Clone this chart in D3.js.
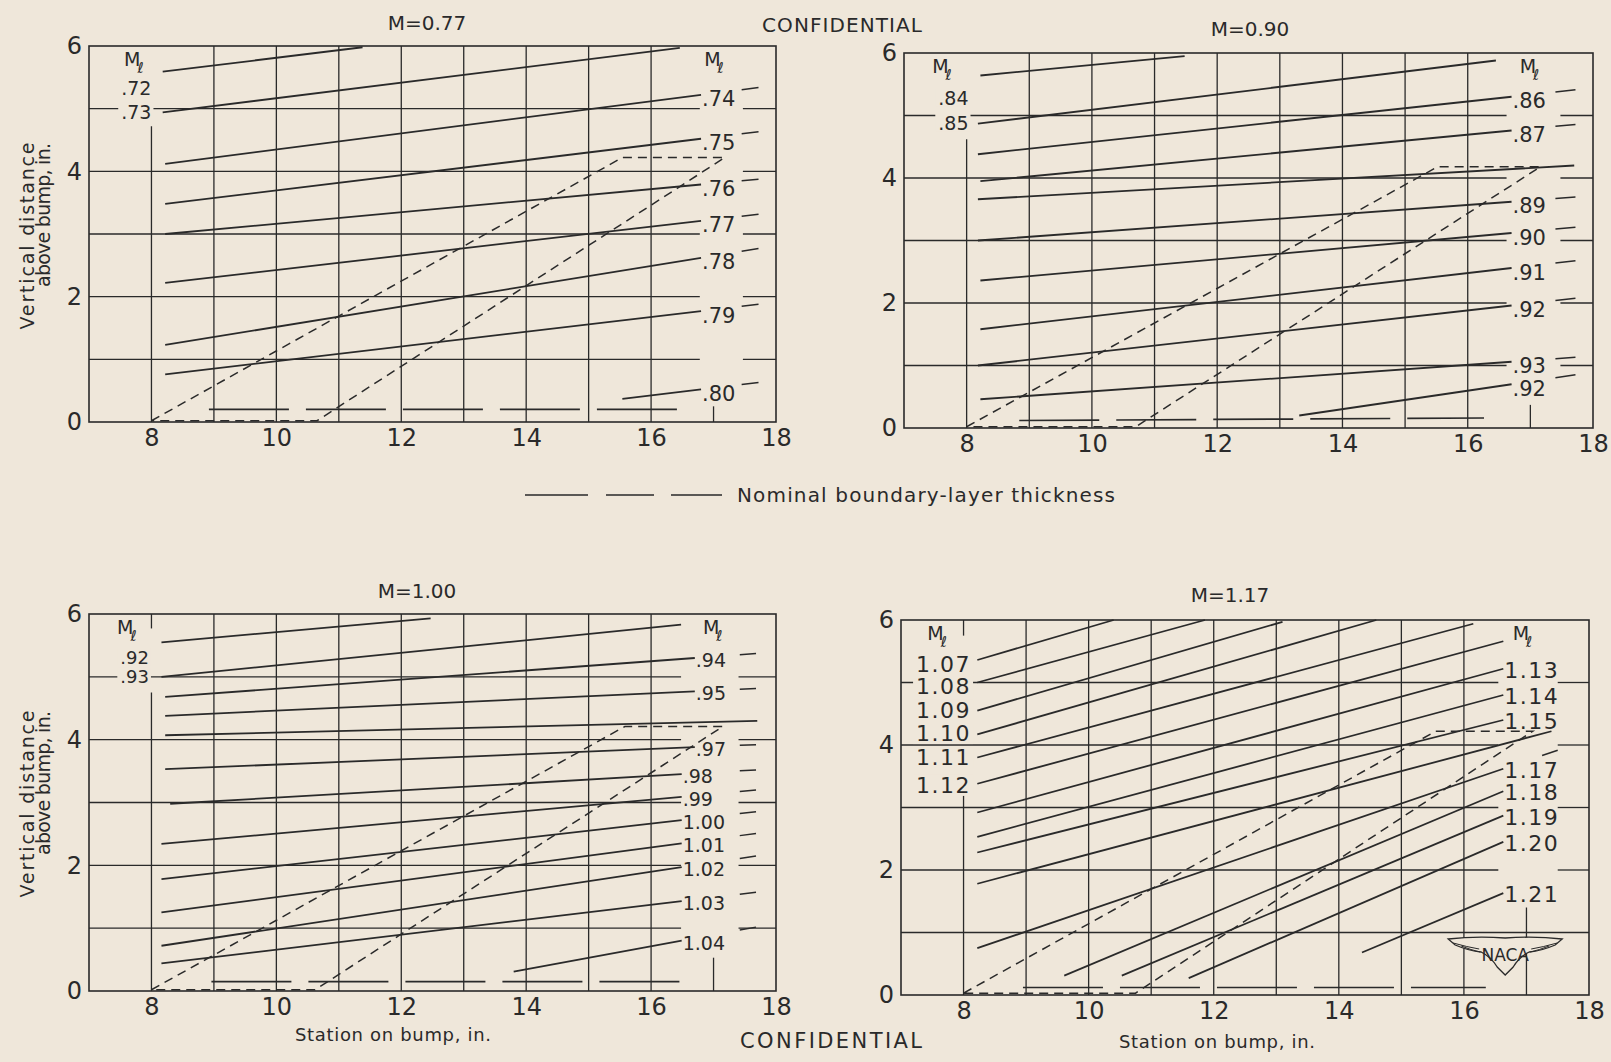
<!DOCTYPE html>
<html>
<head>
<meta charset="utf-8">
<script src="https://cdn.jsdelivr.net/npm/d3@7"></script>
<style>
  html, body { margin: 0; padding: 0; background: #efe7da; }
  svg { display: block; }
  text { font-family: "DejaVu Sans", sans-serif; fill: #2a2a2a; }
</style>
</head>
<body>
<script>
// axis ticks and grid
const xTicks = [8, 10, 12, 14, 16, 18];
const yTicks = [0, 2, 4, 6];
const gridX = [8, 9, 10, 11, 12, 13, 14, 15, 16];
const gridY = [1, 2, 3, 4, 5];

// local Mach number lines: [x start, y start, x end, y end, label at right end]
const lines077 = [
  [8.18, 5.59, 11.38, 5.98, null],
  [8.18, 4.94, 16.46, 5.97, null],
  [8.22, 4.12, 16.8, 5.22, ".74"],
  [8.22, 3.48, 16.8, 4.52, ".75"],
  [8.22, 3.00, 16.8, 3.79, ".76"],
  [8.22, 2.22, 16.8, 3.21, ".77"],
  [8.22, 1.23, 16.8, 2.62, ".78"],
  [8.22, 0.76, 16.8, 1.77, ".79"],
  [15.54, 0.37, 16.8, 0.52, ".80"]
];
const lines090 = [
  [8.22, 5.64, 11.48, 5.95, null],
  [8.18, 4.87, 16.45, 5.88, null],
  [8.18, 4.38, 16.7, 5.30, ".86"],
  [8.22, 3.95, 16.7, 4.76, ".87"],
  [8.18, 3.66, 17.7, 4.20, null],
  [8.18, 3.00, 16.7, 3.62, ".89"],
  [8.22, 2.36, 16.7, 3.12, ".90"],
  [8.22, 1.58, 16.7, 2.56, ".91"],
  [8.18, 1.00, 16.7, 1.96, ".92"],
  [8.22, 0.46, 16.7, 1.06, ".93"],
  [13.31, 0.20, 16.7, 0.70, ".92"]
];
const lines100 = [
  [8.16, 5.55, 12.47, 5.93, null],
  [8.16, 5.00, 16.48, 5.83, null],
  [8.22, 4.68, 16.7, 5.30, ".94"],
  [8.22, 4.38, 16.7, 4.77, ".95"],
  [8.22, 4.07, 17.7, 4.30, null],
  [8.22, 3.53, 16.7, 3.88, ".97"],
  [8.30, 2.98, 16.49, 3.45, ".98"],
  [8.16, 2.34, 16.49, 3.09, ".99"],
  [8.16, 1.78, 16.49, 2.72, "1.00"],
  [8.16, 1.25, 16.49, 2.35, "1.01"],
  [8.16, 0.72, 16.49, 1.97, "1.02"],
  [8.16, 0.44, 16.49, 1.43, "1.03"],
  [13.80, 0.31, 16.49, 0.80, "1.04"]
];
const lines117 = [
  [8.22, 5.36, 10.40, 6.00, null],
  [8.22, 5.00, 11.86, 6.00, null],
  [8.22, 4.55, 13.10, 5.97, null],
  [8.22, 4.17, 14.60, 6.00, null],
  [8.22, 3.80, 16.15, 5.94, null],
  [8.22, 3.38, 16.63, 5.66, null],
  [8.22, 2.92, 16.63, 5.22, "1.13"],
  [8.22, 2.53, 16.63, 4.80, "1.14"],
  [8.22, 2.28, 16.63, 4.40, "1.15"],
  [8.22, 1.78, 17.40, 4.22, null],
  [8.22, 0.75, 16.63, 3.62, "1.17"],
  [9.61, 0.31, 16.63, 3.26, "1.18"],
  [10.53, 0.31, 16.63, 2.87, "1.19"],
  [11.60, 0.27, 16.63, 2.45, "1.20"],
  [14.37, 0.68, 16.63, 1.63, "1.21"]
];

// labels on the left side: [text, height]
const left077 = [[".72", 5.33], [".73", 4.95]];
const left090 = [[".84", 5.28], [".85", 4.88]];
const left100 = [[".92", 5.31], [".93", 5.01]];
const left117 = [["1.07", 5.30], ["1.08", 4.94], ["1.09", 4.56], ["1.10", 4.19], ["1.11", 3.80], ["1.12", 3.36]];

// shock region outline (short dashes)
const shock077 = [[8, 0.02], [15.54, 4.22], [17.18, 4.22], [10.65, 0.02], [8, 0.02]];
const shock090 = [[8, 0.02], [15.52, 4.18], [17.16, 4.18], [10.70, 0.02], [8, 0.02]];
const shock100 = [[8, 0.02], [15.58, 4.21], [17.15, 4.21], [10.62, 0.02], [8, 0.02]];
const shock117 = [[8, 0.03], [15.55, 4.22], [17.10, 4.22], [10.75, 0.03], [8, 0.03]];

// nominal boundary-layer thickness (long dashes)
const layer077 = [[8.92, 0.20], [16.53, 0.20]];
const layer090 = [[8.84, 0.12], [16.26, 0.16]];
const layer100 = [[8.96, 0.15], [16.50, 0.15]];
const layer117 = [[8.95, 0.12], [16.35, 0.12]];

const PAPER = "#efe7da", INK = "#2a2a2a";
const COND = "'DejaVu Sans Condensed', 'DejaVu Sans', sans-serif";

const panels = [
  { id: "m077", title: "M=0.77", tx: 427, ty: 23, x0: 89, x1: 776, yTop: 46, yBot: 422,
    lines: lines077, left: left077, shock: shock077, layer: layer077,
    gap8: [4.72, 6], gapR: [16.78, 17.47], rowsFull: [], v17: 0.25,
    tail: "all", tailX: [17.45, 17.72], labSize: 21, labDy: 4, spacing: 0,
    leftX: 8.0, leftSize: 19, mlLeft: 7.56, mlRight: 16.85 },
  { id: "m090", title: "M=0.90", tx: 1250, ty: 29, x0: 904, x1: 1593, yTop: 53, yBot: 428,
    lines: lines090, left: left090, shock: shock090, layer: layer090,
    gap8: [4.62, 6], gapR: [16.62, 17.48], rowsFull: [], v17: 0.37,
    tail: "all", tailX: [17.4, 17.72], labSize: 21, labDy: 4, spacing: 0,
    leftX: 8.03, leftSize: 19, mlLeft: 7.45, mlRight: 16.83 },
  { id: "m100", title: "M=1.00", tx: 417, ty: 591, x0: 89, x1: 776, yTop: 614, yBot: 991,
    lines: lines100, left: left100, shock: shock100, layer: layer100,
    gap8: [4.75, 5.77], gapR: [16.48, 17.4], rowsFull: [], v17: 0.53,
    tail: "all", tailX: [17.42, 17.68], labSize: 19, labDy: 2, spacing: 0,
    leftX: 7.96, leftSize: 18, mlLeft: 7.45, mlRight: 16.83 },
  { id: "m117", title: "M=1.17", tx: 1230, ty: 595, x0: 901, x1: 1589, yTop: 620, yBot: 995,
    lines: lines117, left: left117, shock: shock117, layer: layer117,
    gap8: [3.2, 5.75], gapR: [16.55, 17.5], rowsFull: [1], v17: 1.4,
    tail: ["1.17"], tailX: [17.25, 17.5], labSize: 22, labDy: 1, spacing: 1.5,
    leftX: 8.12, leftSize: 22, mlLeft: 7.42, mlRight: 16.78, logo: true }
];

const svg = d3.select("body").append("svg")
  .attr("width", 1611)
  .attr("height", 1062);

svg.append("rect").attr("width", 1611).attr("height", 1062).attr("fill", PAPER);

function drawPanel(p) {
  const x = d3.scaleLinear().domain([7, 18]).range([p.x0, p.x1]);
  const y = d3.scaleLinear().domain([0, 6]).range([p.yBot, p.yTop]);
  const g = svg.append("g").attr("id", p.id);

  const seg = (a, b, c, d, w) => g.append("line")
    .attr("x1", x(a)).attr("y1", y(b))
    .attr("x2", x(c)).attr("y2", y(d))
    .attr("stroke", INK)
    .attr("stroke-width", w || 1.3);

  // grid
  gridX.forEach(v => {
    if (v === 8) {
      seg(8, 0, 8, p.gap8[0]);
      if (p.gap8[1] < 6) seg(8, p.gap8[1], 8, 6);
    } else {
      seg(v, 0, v, 6);
    }
  });
  seg(17, 0, 17, p.v17);
  gridY.forEach(v => {
    if (p.rowsFull.includes(v)) {
      seg(7, v, 18, v);
    } else {
      seg(7, v, p.gapR[0], v);
      seg(p.gapR[1], v, 18, v);
    }
  });

  g.append("rect")
    .attr("x", x(7)).attr("y", y(6))
    .attr("width", x(18) - x(7)).attr("height", y(0) - y(6))
    .attr("fill", "none")
    .attr("stroke", INK)
    .attr("stroke-width", 1.6);

  // left labels with a blank patch behind them
  p.left.forEach(([t, v]) => {
    const txt = g.append("text")
      .attr("x", x(p.leftX)).attr("y", y(v))
      .attr("dy", "0.36em")
      .attr("text-anchor", "end")
      .attr("font-size", p.leftSize)
      .attr("letter-spacing", p.spacing)
      .text(t);
    const b = txt.node().getBBox();
    g.insert("rect", () => txt.node())
      .attr("x", b.x - 3).attr("y", b.y + 2)
      .attr("width", b.width + 5).attr("height", b.height - 4)
      .attr("fill", PAPER);
  });

  // M sub l headers
  const ml = xv => {
    const t = g.append("text")
      .attr("x", x(xv)).attr("y", y(5.8) + 7)
      .attr("font-size", 19);
    t.append("tspan").text("M");
    t.append("tspan").attr("font-size", 15).attr("dx", -3).attr("dy", 7).text("\u2113");
  };
  ml(p.mlLeft);
  ml(p.mlRight);

  // Mach lines
  p.lines.forEach(([a, b, c, d, lab]) => {
    seg(a, b, c, d, 1.8);
    if (lab && (p.tail === "all" || p.tail.includes(lab))) {
      const k = (d - b) / (c - a);
      seg(p.tailX[0], d + k * (p.tailX[0] - c), p.tailX[1], d + k * (p.tailX[1] - c), 1.5);
    }
    if (lab) {
      g.append("text")
        .attr("x", x(c) + 1).attr("y", y(d) + p.labDy)
        .attr("dy", "0.36em")
        .attr("font-size", p.labSize)
        .attr("letter-spacing", p.spacing)
        .text(lab);
    }
  });

  const path = d3.line().x(d => x(d[0])).y(d => y(d[1]));
  g.append("path")
    .attr("d", path(p.shock))
    .attr("fill", "none")
    .attr("stroke", INK)
    .attr("stroke-width", 1.5)
    .attr("stroke-dasharray", "9,6");
  g.append("path")
    .attr("d", path(p.layer))
    .attr("fill", "none")
    .attr("stroke", INK)
    .attr("stroke-width", 1.7)
    .attr("stroke-dasharray", "80,17");

  // axes (labels only)
  const ax = g.append("g")
    .attr("transform", "translate(0," + p.yBot + ")")
    .call(d3.axisBottom(x).tickValues(xTicks).tickFormat(d3.format("d")).tickSize(0).tickPadding(7));
  ax.select(".domain").remove();
  ax.selectAll("text").attr("font-size", 24).attr("font-family", COND).attr("fill", INK);

  const ay = g.append("g")
    .attr("transform", "translate(" + p.x0 + ",0)")
    .call(d3.axisLeft(y).tickValues(yTicks).tickFormat(d3.format("d")).tickSize(0).tickPadding(7));
  ay.select(".domain").remove();
  ay.selectAll("text").attr("font-size", 24).attr("font-family", COND).attr("fill", INK);

  g.append("text")
    .attr("x", p.tx).attr("y", p.ty)
    .attr("dy", "0.36em")
    .attr("text-anchor", "middle")
    .attr("font-size", 20)
    .text(p.title);

  if (p.logo) {
    const lg = g.append("g").attr("transform", "translate(" + x(16.66) + ",955)");
    lg.append("path")
      .attr("d", "M-57,-16 Q-30,-19 0,-17 Q30,-19 57,-16 L50,-10 Q36,-4 24,-3 Q14,2 8,12 L0,20 L-8,12 Q-14,2 -24,-3 Q-36,-4 -50,-10 Z")
      .attr("fill", PAPER)
      .attr("stroke", INK)
      .attr("stroke-width", 1.3);
    lg.append("path")
      .attr("d", "M-52,-12 Q-38,-8 -26,-6 M52,-12 Q38,-8 26,-6 M-44,-9 Q-34,-5 -25,-3 M44,-9 Q34,-5 25,-3")
      .attr("fill", "none")
      .attr("stroke", INK)
      .attr("stroke-width", 1);
    lg.append("text")
      .attr("y", 0)
      .attr("dy", "0.36em")
      .attr("text-anchor", "middle")
      .attr("font-size", 17)
      .attr("font-family", COND)
      .text("NACA");
  }
}

panels.forEach(drawPanel);

// y axis titles
[[0, 236, 187, "Vertical distance", 27], [0, 215, 144, "above bump, in.", 43],
 [568, 236, 187, "Vertical distance", 27], [568, 215, 144, "above bump, in.", 43]]
  .forEach(([off, cy, len, t, cx]) => {
    svg.append("text")
      .attr("transform", "translate(" + cx + "," + (cy + off) + ") rotate(-90)")
      .attr("dy", "0.36em")
      .attr("text-anchor", "middle")
      .attr("font-size", 19)
      .attr("textLength", len)
      .attr("lengthAdjust", "spacing")
      .text(t);
  });

// x axis titles
[[393, 1035], [1217, 1042]].forEach(([cx, cy]) => {
  svg.append("text")
    .attr("x", cx).attr("y", cy)
    .attr("dy", "0.36em")
    .attr("text-anchor", "middle")
    .attr("font-size", 18)
    .attr("textLength", 196)
    .attr("lengthAdjust", "spacing")
    .text("Station on bump, in.");
});

// CONFIDENTIAL marks
[[842, 25, 160, 20], [831, 1040, 182, 21]].forEach(([cx, cy, len, fs]) => {
  svg.append("text")
    .attr("x", cx).attr("y", cy)
    .attr("dy", "0.36em")
    .attr("text-anchor", "middle")
    .attr("font-size", fs)
    .attr("textLength", len)
    .attr("lengthAdjust", "spacing")
    .text("CONFIDENTIAL");
});

// legend
svg.append("line")
  .attr("x1", 525).attr("x2", 722)
  .attr("y1", 495).attr("y2", 495)
  .attr("stroke", INK)
  .attr("stroke-width", 1.7)
  .attr("stroke-dasharray", "63,18,48,17,51");
svg.append("text")
  .attr("x", 737).attr("y", 495)
  .attr("dy", "0.36em")
  .attr("font-size", 20)
  .attr("textLength", 378)
  .attr("lengthAdjust", "spacing")
  .text("Nominal boundary-layer thickness");
</script>
</body>
</html>
